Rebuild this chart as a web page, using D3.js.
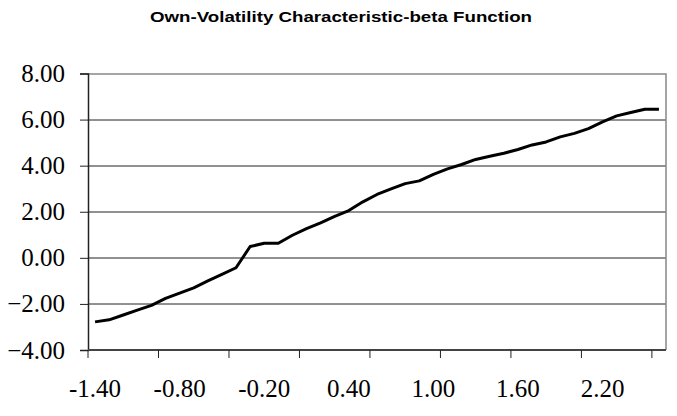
<!DOCTYPE html>
<html>
<head>
<meta charset="utf-8">
<script src="https://cdn.jsdelivr.net/npm/d3@7"></script>
<style>
  body { margin: 0; background: #fff; }
  svg { display: block; }
  .num { font-family: "Liberation Serif", "Times New Roman", Times, serif; font-size: 25px; fill: #000; }
</style>
</head>
<body>
<svg id="chart" width="677" height="416"></svg>
<script>
const title = "Own-Volatility Characteristic-beta Function";

// categories: beta from -1.40 to 2.60 step 0.10
const categories = [
  "-1.40", "-1.30", "-1.20", "-1.10", "-1.00", "-0.90", "-0.80", "-0.70", "-0.60", "-0.50",
  "-0.40", "-0.30", "-0.20", "-0.10", "0.00", "0.10", "0.20", "0.30", "0.40", "0.50",
  "0.60", "0.70", "0.80", "0.90", "1.00", "1.10", "1.20", "1.30", "1.40", "1.50",
  "1.60", "1.70", "1.80", "1.90", "2.00", "2.10", "2.20", "2.30", "2.40", "2.50", "2.60"
];

const values = [
  -2.78, -2.69, -2.48, -2.27, -2.06, -1.76, -1.53, -1.30, -1.00, -0.72,
  -0.43, 0.49, 0.63, 0.63, 0.98, 1.27, 1.52, 1.80, 2.05, 2.43,
  2.75, 2.99, 3.22, 3.34, 3.62, 3.86, 4.05, 4.27, 4.41, 4.54,
  4.70, 4.90, 5.03, 5.25, 5.40, 5.61, 5.90, 6.16, 6.31, 6.45, 6.45
];

const yTicks = [-4, -2, 0, 2, 4, 6, 8];
const xLabelEvery = 6;
const xTickEvery = 5;

const margin = { top: 73.5, right: 11, bottom: 66, left: 88 };
const W = 677, H = 416;
const iw = W - margin.left - margin.right;
const ih = H - margin.top - margin.bottom;

const svg = d3.select("#chart");

svg.append("text")
  .attr("x", 341)
  .attr("y", 22)
  .attr("text-anchor", "middle")
  .style("font-family", "'Liberation Sans', Arial, sans-serif")
  .style("font-weight", "bold")
  .style("font-size", "15.5px")
  .attr("textLength", 382)
  .attr("lengthAdjust", "spacingAndGlyphs")
  .text(title);

const g = svg.append("g").attr("transform", `translate(${margin.left},${margin.top})`);

const x = d3.scaleBand().domain(categories).range([0, iw]).paddingInner(0).paddingOuter(0);
const y = d3.scaleLinear().domain([-4, 8]).range([ih, 0]);

// gridlines
g.selectAll(".grid")
  .data(yTicks.filter(d => d > -4 && d < 8))
  .enter().append("line")
  .attr("x1", 0).attr("x2", iw)
  .attr("y1", d => Math.round(y(d)) + 0.5).attr("y2", d => Math.round(y(d)) + 0.5)
  .attr("stroke", "#222").attr("stroke-width", 1);

// plot border (top, right)
g.append("path")
  .attr("d", `M0,${Math.round(y(8)) + 0.5}H${iw}V${ih}`)
  .attr("fill", "none").attr("stroke", "#888").attr("stroke-width", 1.5);

// y axis
const yAxis = d3.axisLeft(y).tickValues(yTicks).tickSize(8).tickPadding(15)
  .tickFormat(d3.format(".2f"));
const gy = g.append("g").call(yAxis).attr("font-family", null).attr("font-size", null);
gy.select(".domain").attr("stroke", "#222").attr("stroke-width", 1.5);
gy.selectAll(".tick line").attr("stroke", "#222");
gy.selectAll(".tick text").attr("class", "num").attr("fill", null);

// x axis: tick marks every 5 categories at band edges
const edgeTicks = d3.range(0, categories.length + 1, xTickEvery);
const gx = g.append("g").attr("transform", `translate(0,${ih})`);
gx.append("line")
  .attr("x1", 0).attr("x2", iw).attr("y1", 0).attr("y2", 0)
  .attr("stroke", "#444").attr("stroke-width", 2);
gx.selectAll(".xtick")
  .data(edgeTicks)
  .enter().append("line")
  .attr("x1", i => i * x.step()).attr("x2", i => i * x.step())
  .attr("y1", 0).attr("y2", 8)
  .attr("stroke", "#222");
gx.selectAll(".xlabel")
  .data(categories.filter((c, i) => i % xLabelEvery === 0))
  .enter().append("text")
  .attr("class", "num")
  .attr("x", d => x(d) + x.bandwidth() / 2)
  .attr("y", 47)
  .attr("text-anchor", "middle")
  .text(d => d);

// line
const line = d3.line()
  .x((d, i) => x(categories[i]) + x.bandwidth() / 2)
  .y(d => y(d));

g.append("path")
  .datum(values)
  .attr("d", line)
  .attr("fill", "none")
  .attr("stroke", "#000")
  .attr("stroke-width", 3)
  .attr("stroke-linejoin", "round");
</script>
</body>
</html>
